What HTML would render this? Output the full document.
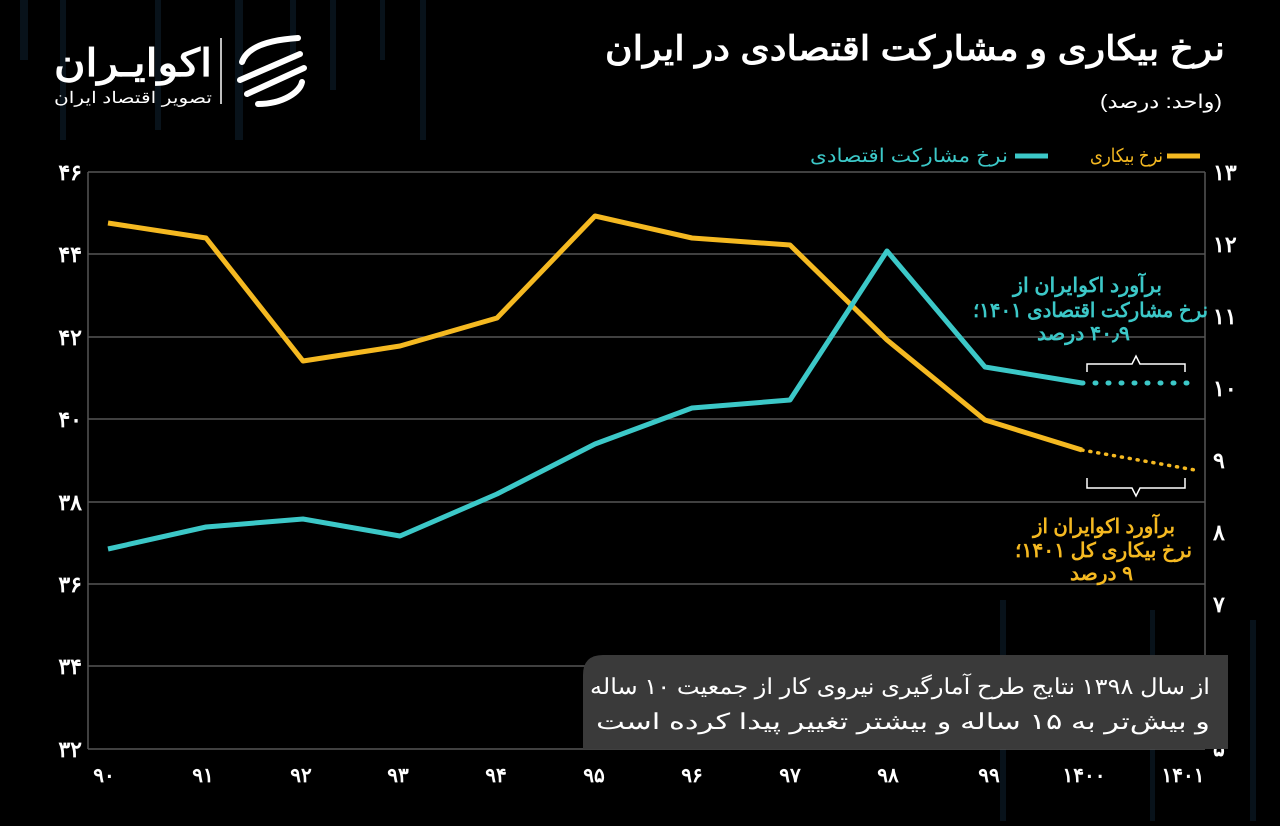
<!DOCTYPE html>
<html><head><meta charset="utf-8"><style>
body{margin:0;background:#000;width:1280px;height:821px;overflow:hidden;font-family:"Liberation Sans","Noto Sans CJK SC",sans-serif}
</style></head><body>
<svg width="1280" height="821" xmlns="http://www.w3.org/2000/svg" style="font-family:'Liberation Sans','Noto Sans CJK SC',sans-serif">
<rect width="1280" height="821" fill="#000"/>
<g fill="#08121a">
<rect x="20" y="0" width="8" height="60"/><rect x="60" y="0" width="6" height="140"/><rect x="155" y="0" width="6" height="130"/><rect x="235" y="0" width="8" height="140"/><rect x="290" y="0" width="6" height="60"/><rect x="330" y="0" width="6" height="90"/><rect x="380" y="0" width="5" height="60"/><rect x="420" y="0" width="6" height="140"/>
<rect x="1000" y="600" width="6" height="221"/><rect x="1150" y="610" width="5" height="211"/><rect x="1250" y="620" width="6" height="201"/>
</g>
<g stroke="#555" stroke-width="1.5">
<line x1="88" y1="172" x2="1205" y2="172"/><line x1="88" y1="254" x2="1205" y2="254"/><line x1="88" y1="337" x2="1205" y2="337"/><line x1="88" y1="419" x2="1205" y2="419"/><line x1="88" y1="502" x2="1205" y2="502"/><line x1="88" y1="584" x2="1205" y2="584"/><line x1="88" y1="666" x2="1205" y2="666"/><line x1="88" y1="749" x2="1205" y2="749"/>
<line x1="88" y1="172" x2="88" y2="749"/><line x1="1205" y1="172" x2="1205" y2="749"/>
</g>
<g fill="#fff" font-size="22" font-weight="bold" text-anchor="end">
<text x="82" y="180">۴۶</text><text x="82" y="262">۴۴</text><text x="82" y="345">۴۲</text><text x="82" y="427">۴۰</text><text x="82" y="510">۳۸</text><text x="82" y="592">۳۶</text><text x="82" y="674">۳۴</text><text x="82" y="757">۳۲</text>
</g>
<g fill="#fff" font-size="22" font-weight="bold" text-anchor="start">
<text x="1213" y="180">۱۳</text><text x="1213" y="252">۱۲</text><text x="1213" y="324">۱۱</text><text x="1213" y="396">۱۰</text><text x="1213" y="468">۹</text><text x="1213" y="540">۸</text><text x="1213" y="612">۷</text><text x="1213" y="684">۶</text><text x="1213" y="756">۵</text>
</g>
<g fill="#fff" font-size="20" font-weight="bold" text-anchor="middle">
<text x="104" y="782">۹۰</text><text x="203" y="782">۹۱</text><text x="301" y="782">۹۲</text><text x="398" y="782">۹۳</text><text x="496" y="782">۹۴</text><text x="594" y="782">۹۵</text><text x="692" y="782">۹۶</text><text x="790" y="782">۹۷</text><text x="888" y="782">۹۸</text><text x="989" y="782">۹۹</text><text x="1084" y="782">۱۴۰۰</text><text x="1183" y="782">۱۴۰۱</text>
</g>
<polyline fill="none" stroke="#f5b921" stroke-width="5" stroke-linejoin="round" points="108,223 206,238 303,361 400,346 497,318 595,216 692,238 790,245 887,340 985,420 1082,450"/>
<line x1="1082" y1="450" x2="1195" y2="470" stroke="#f5b921" stroke-width="3.5" stroke-dasharray="1,7" stroke-linecap="round"/>
<polyline fill="none" stroke="#3cc8c8" stroke-width="5" stroke-linejoin="round" points="108,549 206,527 303,519 400,536 497,494 595,444 692,408 790,400 887,251 985,367 1082,383"/>
<line x1="1082" y1="383" x2="1192" y2="383" stroke="#3cc8c8" stroke-width="5" stroke-dasharray="1,12" stroke-linecap="round"/>
<path d="M1087,372 v-8 h45 l4,-8 l4,8 h45 v8" fill="none" stroke="#fff" stroke-width="1.5"/>
<path d="M1087,478 v10 h45 l4,8 l4,-8 h45 v-10" fill="none" stroke="#fff" stroke-width="1.5"/>
<g fill="#3cc8c8" font-size="20" font-weight="bold" text-anchor="start" direction="rtl">
<text x="1162" y="292" textLength="149" lengthAdjust="spacingAndGlyphs">برآورد اکوایران از</text><text x="1208" y="317" textLength="235" lengthAdjust="spacingAndGlyphs">نرخ مشارکت اقتصادی ۱۴۰۱؛</text><text x="1130" y="340" textLength="93" lengthAdjust="spacingAndGlyphs">۴۰٫۹ درصد</text>
</g>
<g fill="#f5b921" font-size="20" font-weight="bold" text-anchor="start" direction="rtl">
<text x="1175" y="533" textLength="142" lengthAdjust="spacingAndGlyphs">برآورد اکوایران از</text><text x="1192" y="557" textLength="177" lengthAdjust="spacingAndGlyphs">نرخ بیکاری کل ۱۴۰۱؛</text><text x="1133" y="580" textLength="63" lengthAdjust="spacingAndGlyphs">۹ درصد</text>
</g>
<line x1="1167" y1="156" x2="1200" y2="156" stroke="#f5b921" stroke-width="5"/>
<text x="1163" y="162" fill="#f5b921" font-size="19" text-anchor="start" direction="rtl" textLength="73" lengthAdjust="spacingAndGlyphs">نرخ بیکاری</text>
<line x1="1015" y1="156" x2="1048" y2="156" stroke="#3cc8c8" stroke-width="5"/>
<text x="1008" y="162" fill="#3cc8c8" font-size="19" text-anchor="start" direction="rtl" textLength="198" lengthAdjust="spacingAndGlyphs">نرخ مشارکت اقتصادی</text>
<text x="1225" y="60" fill="#fff" font-size="34" font-weight="bold" text-anchor="start" direction="rtl" textLength="620" lengthAdjust="spacingAndGlyphs">نرخ بیکاری و مشارکت اقتصادی در ایران</text>
<text x="1222" y="108" fill="#fff" font-size="19" text-anchor="start" direction="rtl" textLength="122" lengthAdjust="spacingAndGlyphs">(واحد: درصد)</text>
<text x="212" y="76" fill="#fff" font-size="38" font-weight="bold" text-anchor="start" direction="rtl" textLength="158" lengthAdjust="spacingAndGlyphs">اکوایـران</text>
<text x="212" y="103" fill="#fff" font-size="16" text-anchor="start" direction="rtl" textLength="158" lengthAdjust="spacingAndGlyphs">تصویر اقتصاد ایران</text>
<line x1="221" y1="38" x2="221" y2="104" stroke="#fff" stroke-width="1.5"/>
<g stroke="#fff" stroke-width="6" fill="none" stroke-linecap="round">
<path d="M242,62 C247,47 268,40 298,38"/><path d="M240,80 L300,54"/><path d="M247,94 L304,68"/><path d="M258,104 C283,104 300,92 302,82"/>
</g>
<path d="M603,655 H1228 V749 H583 V675 Q583,655 603,655 Z" fill="#3a3a3a"/>
<g fill="#fff" font-size="22" text-anchor="start" direction="rtl">
<text x="1210" y="694" textLength="620" lengthAdjust="spacingAndGlyphs">از سال ۱۳۹۸ نتایج طرح آمارگیری نیروی کار از جمعیت ۱۰ ساله</text>
<text x="1210" y="729" textLength="614" lengthAdjust="spacingAndGlyphs">و بیش‌تر به ۱۵ ساله و بیشتر تغییر پیدا کرده است</text>
</g>
</svg>
</body></html>
